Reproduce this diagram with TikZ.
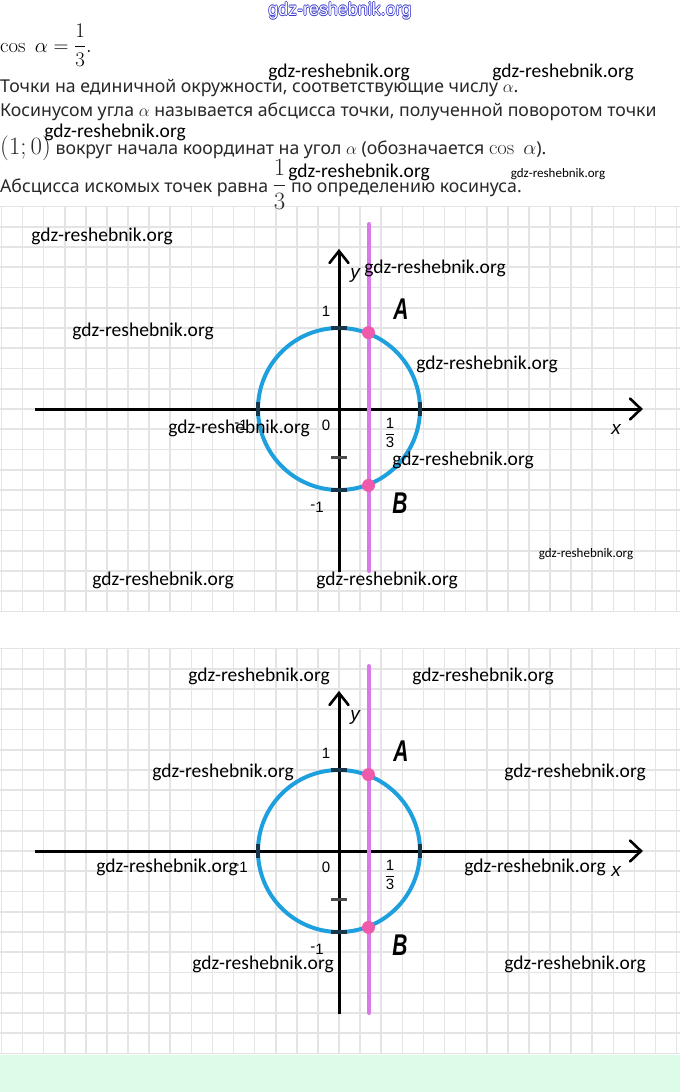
\documentclass[tikz,border=0pt]{standalone}
\usepackage{amsmath}
\usepackage[no-math]{fontspec}
\setmainfont{Noto Sans}
\newfontfamily\wmfont{Carlito}
\newfontfamily\labfont{Liberation Sans}
\usetikzlibrary{calc}
\definecolor{gridc}{RGB}{228,228,228}
\definecolor{circc}{RGB}{30,160,222}
\definecolor{linec}{RGB}{216,122,232}
\definecolor{dotc}{RGB}{240,90,170}
\definecolor{tickc}{RGB}{25,55,75}
\definecolor{txtc}{RGB}{40,40,40}
\definecolor{greenbg}{RGB}{220,252,232}
\definecolor{bluewm}{RGB}{55,55,205}
\newcommand\smin{\raisebox{2.5pt}{-}}
\newcommand\outlinetext[1]{\leavevmode
  \rlap{\color{bluewm}\hspace{-0.7pt}#1}%
  \rlap{\color{bluewm}\hspace{0.7pt}#1}%
  \rlap{\color{bluewm}\raisebox{0.7pt}{#1}}%
  \rlap{\color{bluewm}\raisebox{-0.7pt}{#1}}%
  {\color{white}#1}}
\newcommand\bodysize{\fontsize{17.7}{20}\selectfont}
\tikzset{
 gridline/.style={draw=gridc, line width=1.6pt},
 axisline/.style={draw=black, line width=3pt},
 chevron/.style={draw=black, line width=2.6pt, line cap=round, line join=miter},
 unitcirc/.style={draw=circc, line width=4pt},
 tickmark/.style={draw=tickc, line width=3.5pt},
 smalltick/.style={draw=black!70, line width=3pt},
 vline/.style={draw=linec, line width=4pt, line cap=round},
 dotpt/.style={circle, fill=dotc, inner sep=0, minimum size=13pt},
 wm/.style={inner sep=0, font=\wmfont\fontsize{19.5}{20}\selectfont, text=black},
 wmsmall/.style={inner sep=0, font=\wmfont\fontsize{13}{14}\selectfont, text=black},
 wmblue/.style={inner sep=0, font=\labfont\fontsize{17.9}{18}\selectfont},
 body/.style={inner sep=0, anchor=base west, font=\bodysize, text=txtc},
 num/.style={inner sep=0, font=\labfont\fontsize{15}{15}\selectfont},
 ptlabel/.style={inner sep=0, font=\labfont\bfseries\itshape\fontsize{30}{30}\selectfont},
 axlabel/.style={inner sep=0, font=\labfont\itshape\fontsize{19}{19}\selectfont},
}
\begin{document}
\begin{tikzpicture}[x=1pt,y=-1pt]
\useasboundingbox (0,0) rectangle (680,1092);
\fill[white] (0,0) rectangle (680,1092);
\fill[greenbg] (0,1055) rectangle (680,1092);

\foreach \pn/\dy in {t/0,b/442}{
  \foreach \k in {-10,...,10}
    \draw[gridline] (0,{409+\dy+20.25*\k}) -- (680,{409+\dy+20.25*\k});
  \foreach \k in {0,...,32}
    \draw[gridline] ({1.4+21.1*\k},{206.5+\dy}) -- ({1.4+21.1*\k},{611.5+\dy});
  \coordinate (\pn O) at (339,{409+\dy});
  \coordinate (\pn xs) at (35,{409+\dy});
  \coordinate (\pn xe) at (641,{409+\dy});
  \coordinate (\pn ys) at (339,{572+\dy});
  \coordinate (\pn ye) at (339,{251+\dy});
  \coordinate (\pn ls) at (369,{224+\dy});
  \coordinate (\pn le) at (369,{571+\dy});
  \draw[unitcirc] (\pn O) circle[radius=81];
  \draw[axisline] (\pn xs) -- (\pn xe);
  \draw[axisline] (\pn ys) -- (\pn ye);
  \draw[chevron] (\pn xe) ++(-11,-10.5) -- (\pn xe) -- ++(-11,10.5);
  \draw[chevron] (\pn ye) ++(-9.5,12) -- (\pn ye) -- ++(9.5,12);
  \draw[tickmark] ($(\pn O)+(81,-7)$) -- ($(\pn O)+(81,7)$);
  \draw[tickmark] ($(\pn O)+(-81,-7)$) -- ($(\pn O)+(-81,7)$);
  \draw[tickmark] ($(\pn O)+(-8,-81)$) -- ($(\pn O)+(8,-81)$);
  \draw[tickmark] ($(\pn O)+(-8,81)$) -- ($(\pn O)+(8,81)$);
  \draw[smalltick] ($(\pn O)+(-8,48)$) -- ($(\pn O)+(8,48)$);
  \draw[vline] (\pn ls) -- (\pn le);
  \node[dotpt] (\pn A) at (368.5,{332.6+\dy}) {};
  \node[dotpt] (\pn B) at (368.5,{485.4+\dy}) {};
  \node[axlabel] (\pn ylab) at (355,{275+\dy}) {y};
  \node[num] (\pn one) at (326,{311+\dy}) {1};
  \node[ptlabel] (\pn Alab) at (401,{309+\dy}) {\scalebox{0.7}[1]{A}};
  \node[num] (\pn zero) at (326,{425+\dy}) {0};
  \node[num] (\pn mone) at (241,{425+\dy}) {\smin1};
  \node[num] (\pn third) at (390,{433+\dy}) {$\displaystyle\frac{\hbox{1}}{\hbox{3}}$};
  \node[axlabel] (\pn xlab) at (616,{429+\dy}) {x};
  \node[num] (\pn mtwo) at (317,{507+\dy}) {\smin1};
  \node[ptlabel] (\pn Blab) at (400,{503+\dy}) {\scalebox{0.7}[1]{B}};
}

% header text
\node[wmblue] (wtop) at (340,11) {\outlinetext{gdz-reshebnik.org}};
\node[inner sep=0, anchor=base west, font=\fontsize{22}{24}\selectfont] (cosline) at (0,52) {$\cos\ \alpha=\dfrac{1}{3}.$};
\node[body] (l1) at (0,92) {Точки на единичной окружности, соответствующие числу \fontsize{18}{20}\selectfont$\alpha$.};
\node[body] (l2) at (0,116) {Косинусом угла \fontsize{18}{20}\selectfont$\alpha$\bodysize\ называется абсцисса точки, полученной поворотом точки};
\node[body] (l3) at (0,154) {\fontsize{25}{25}\selectfont$(1;0)$\bodysize\ вокруг начала координат на угол \fontsize{18}{20}\selectfont$\alpha$\bodysize\ (обозначается \fontsize{20.7}{22}\selectfont$\cos\ \alpha$\bodysize).};
\node[body] (l4) at (0,192) {Абсцисса искомых точек равна \fontsize{24}{24}\selectfont$\dfrac{1}{3}$\bodysize\ по определению косинуса.};

% watermarks
\node[wm] (w1) at (339,72) {gdz-reshebnik.org};
\node[wm] (w2) at (563,72) {gdz-reshebnik.org};
\node[wm] (w3) at (115,132) {gdz-reshebnik.org};
\node[wm] (w4) at (359,172) {gdz-reshebnik.org};
\node[wmsmall] (w5) at (558,174) {gdz-reshebnik.org};
\node[wm] (w6) at (102,236) {gdz-reshebnik.org};
\node[wm] (w7) at (435,268) {gdz-reshebnik.org};
\node[wm] (w8) at (143,331) {gdz-reshebnik.org};
\node[wm] (w9) at (487,364) {gdz-reshebnik.org};
\node[wm] (w10) at (239,428) {gdz-reshebnik.org};
\node[wm] (w11) at (463,460) {gdz-reshebnik.org};
\node[wmsmall] (w12) at (586,554) {gdz-reshebnik.org};
\node[wm] (w13) at (163,580) {gdz-reshebnik.org};
\node[wm] (w14) at (387,580) {gdz-reshebnik.org};
\node[wm] (w15) at (259,676) {gdz-reshebnik.org};
\node[wm] (w16) at (483,676) {gdz-reshebnik.org};
\node[wm] (w17) at (223,772) {gdz-reshebnik.org};
\node[wm] (w18) at (575,772) {gdz-reshebnik.org};
\node[wm] (w19) at (167,867) {gdz-reshebnik.org};
\node[wm] (w20) at (535,867) {gdz-reshebnik.org};
\node[wm] (w21) at (263,964) {gdz-reshebnik.org};
\node[wm] (w22) at (575,964) {gdz-reshebnik.org};
\end{tikzpicture}
\end{document}
